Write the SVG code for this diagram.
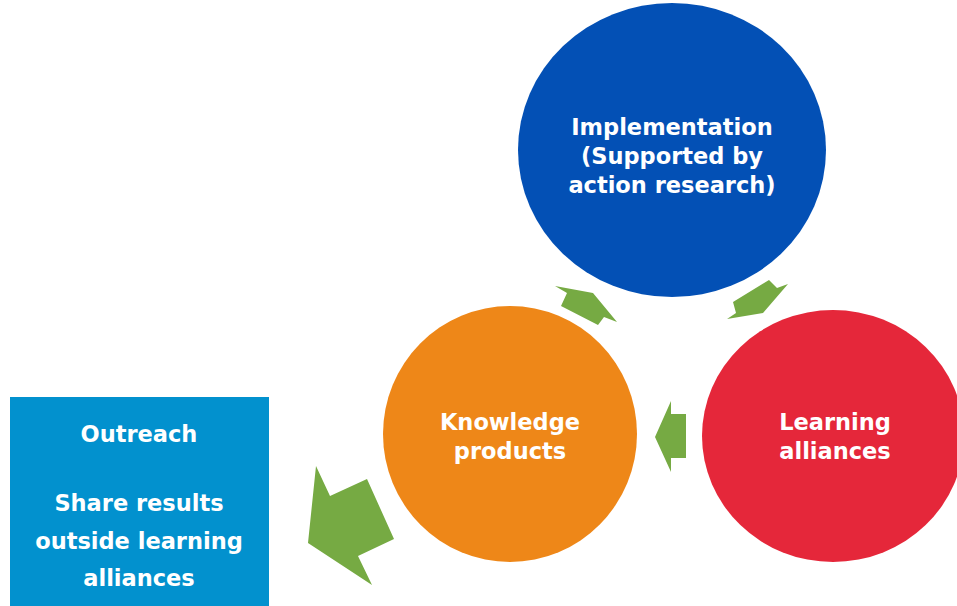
<svg xmlns="http://www.w3.org/2000/svg" width="957" height="606" viewBox="0 0 957 606">
<style>
.t{font-family:"DejaVu Sans","Liberation Sans",sans-serif;font-weight:bold;font-size:22.5px;fill:#ffffff;text-anchor:middle}
.arr{fill:#76AA43}
</style>
<rect x="0" y="0" width="957" height="606" fill="#ffffff"/>
<g id="connectors">
<polygon class="arr" points="555,286 593,293 617,322 604,317 598,325 561,306 567,293"/>
<polygon class="arr" points="733,302 769,280 777,288 788,284 763,313 727,319 736,313"/>
<polygon class="arr" points="671,401 671,414 686,414 686,458 671,458 671,472 655,437"/>
<polygon class="arr" points="316,466 330,496 367,479 394,539 358,556 372,585 308,543"/>
</g>
<g id="implementation">
<ellipse cx="672" cy="150" rx="154" ry="147" fill="#0350B5"/>
<text class="t" x="672" y="135">Implementation</text>
<text class="t" x="672" y="164">(Supported by</text>
<text class="t" x="672" y="193">action research)</text>
</g>
<g id="learning-alliances">
<ellipse cx="833" cy="436" rx="131" ry="126" fill="#E5273A"/>
<text class="t" x="835" y="430">Learning</text>
<text class="t" x="835" y="459">alliances</text>
</g>
<g id="knowledge-products">
<ellipse cx="510" cy="434" rx="127" ry="128" fill="#EE8718"/>
<text class="t" x="510" y="430">Knowledge</text>
<text class="t" x="510" y="459">products</text>
</g>
<g id="outreach">
<rect x="10" y="397" width="259" height="209" fill="#0291CE"/>
<text class="t" x="139" y="442">Outreach</text>
<text class="t" x="139" y="511">Share results</text>
<text class="t" x="139" y="549">outside learning</text>
<text class="t" x="139" y="586">alliances</text>
</g>
</svg>
